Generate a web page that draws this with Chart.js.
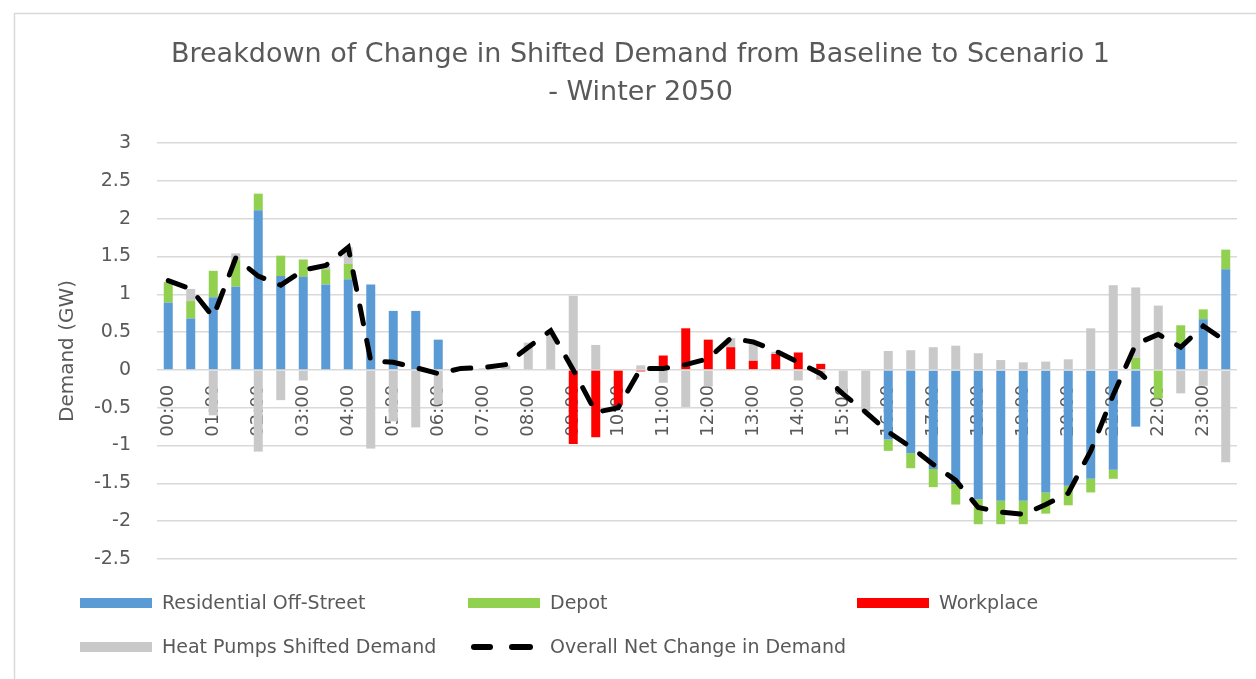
<!DOCTYPE html>
<html><head><meta charset="utf-8">
<script src="https://cdn.jsdelivr.net/npm/chart.js@4.4.1/dist/chart.umd.min.js"></script>
<style>html,body{margin:0;padding:0;background:#fff;overflow:hidden}#wrap{position:relative;width:1256px;height:679px}</style>
</head><body><div id="wrap"><canvas id="c" width="1256" height="679"></canvas></div>
<script>
const categories = ['00:00','00:30','01:00','01:30','02:00','02:30','03:00','03:30','04:00','04:30','05:00','05:30',
  '06:00','06:30','07:00','07:30','08:00','08:30','09:00','09:30','10:00','10:30','11:00','11:30',
  '12:00','12:30','13:00','13:30','14:00','14:30','15:00','15:30','16:00','16:30','17:00','17:30',
  '18:00','18:30','19:00','19:30','20:00','20:30','21:00','21:30','22:00','22:30','23:00','23:30'];
const residential = [0.89,0.68,0.96,1.10,2.11,1.24,1.23,1.13,1.20,1.13,0.78,0.78,
  0.40,0,0,0,0,0,0,0,0,0,0,0,
  0,0,0,0,0,0,0,0,-0.92,-1.10,-1.31,-1.51,
  -1.71,-1.73,-1.73,-1.62,-1.53,-1.44,-1.32,-0.75,0,0.34,0.67,1.33];
const depot = [0.27,0.23,0.35,0.35,0.22,0.27,0.23,0.20,0.20,0,0,0,
  0,0,0,0,0,0,0,0,0,0,0,0,
  0,0,0,0,0,0,0,0,-0.15,-0.20,-0.24,-0.27,
  -0.33,-0.31,-0.31,-0.28,-0.26,-0.18,-0.12,0.16,-0.38,0.25,0.13,0.26];
const workplace = [0,0,0,0,0,0,0,0,0,0,0,0,
  0,0,0,0,0,0,-0.98,-0.89,-0.47,-0.02,0.19,0.55,
  0.40,0.30,0.12,0.21,0.23,0.08,0,0,0,0,0,0,
  0,0,0,0,0,0,0,0,0,0,0,0];
const heatPumps = [0,0.16,-0.60,0.09,-1.08,-0.40,-0.14,0.04,0.22,-1.04,-0.68,-0.76,
  -0.45,0.02,0.02,0.06,0.36,0.48,0.98,0.33,0,0.06,-0.17,-0.49,
  -0.22,0.12,0.22,0.03,-0.14,-0.13,-0.33,-0.54,0.25,0.26,0.30,0.32,
  0.22,0.13,0.10,0.11,0.14,0.55,1.12,0.93,0.85,-0.31,-0.21,-1.22];
const netChange = [1.18,1.07,0.70,1.48,1.24,1.12,1.32,1.38,1.62,0.12,0.10,0.03,
  -0.05,0.02,0.03,0.07,0.30,0.52,0.00,-0.56,-0.50,0.02,0.02,0.07,
  0.15,0.42,0.37,0.25,0.10,-0.05,-0.32,-0.56,-0.82,-1.02,-1.25,-1.46,
  -1.82,-1.88,-1.91,-1.78,-1.63,-1.07,-0.33,0.34,0.47,0.30,0.58,0.38];
const titleLines = ['Breakdown of Change in Shifted Demand from Baseline to Scenario 1','- Winter 2050'];
const yAxisTitle = 'Demand (GW)';

const FONT = 'DejaVu Sans';
const GREY = '#595959';
const COLORS = {res:'#5B9BD5', depot:'#92D050', work:'#FF0000', heat:'#C9C9C9', net:'#000000'};

const frame = {
  id:'frame',
  beforeDraw(chart){
    const c = chart.ctx;
    c.save();
    c.fillStyle='#fff'; c.fillRect(0,0,chart.width,chart.height);
    c.strokeStyle='#d9d9d9'; c.lineWidth=1.5;
    c.strokeRect(14.5,13.5,1300,700);
    c.restore();
  }
};

const legendItems = [
  {text:'Residential Off-Street', color:COLORS.res, type:'box', col:0, row:0},
  {text:'Depot', color:COLORS.depot, type:'box', col:1, row:0},
  {text:'Workplace', color:COLORS.work, type:'box', col:2, row:0},
  {text:'Heat Pumps Shifted Demand', color:COLORS.heat, type:'box', col:0, row:1},
  {text:'Overall Net Change in Demand', color:COLORS.net, type:'line', col:1, row:1}
];
const legendPlugin = {
  id:'gridLegend',
  afterDraw(chart){
    const c = chart.ctx;
    const colX = [80, 468, 857];
    const rowY = [603, 647];
    c.save();
    c.font = '19px "' + FONT + '"';
    c.textBaseline = 'middle';
    c.fillStyle = GREY;
    legendItems.forEach(it=>{
      const x = colX[it.col], y = rowY[it.row];
      if (it.type==='box'){
        c.fillStyle = it.color; c.fillRect(x, y-5, 72, 10);
      } else {
        c.strokeStyle = it.color; c.lineWidth = 6; c.lineCap='round';
        c.beginPath(); c.moveTo(x+6,y); c.lineTo(x+22,y); c.stroke();
        c.beginPath(); c.moveTo(x+44,y); c.lineTo(x+62,y); c.stroke();
      }
      c.fillStyle = GREY;
      c.fillText(it.text, x+82, y+1);
    });
    c.restore();
  }
};

new Chart(document.getElementById('c'), {
  type:'bar',
  data:{
    labels:categories,
    datasets:[
      {type:'line', label:'Overall Net Change in Demand', data:netChange, borderColor:COLORS.net, borderWidth:5,
       borderDash:[18,17], borderCapStyle:'round', pointRadius:0, tension:0, fill:false, order:0, stack:'net'},
      {label:'Residential Off-Street', data:residential, backgroundColor:COLORS.res, stack:'d', order:1},
      {label:'Depot', data:depot, backgroundColor:COLORS.depot, stack:'d', order:1},
      {label:'Workplace', data:workplace, backgroundColor:COLORS.work, stack:'d', order:1},
      {label:'Heat Pumps Shifted Demand', data:heatPumps, backgroundColor:COLORS.heat, stack:'d', order:1}
    ]
  },
  options:{
    responsive:false, animation:false, devicePixelRatio:1,
    layout:{padding:{left:44, right:19, top:0, bottom:120}},
    datasets:{bar:{categoryPercentage:1, barPercentage:0.4}},
    plugins:{
      legend:{display:false}, tooltip:{enabled:false},
      title:{display:true, text:titleLines, color:GREY,
        font:{family:FONT, size:27, weight:'normal', lineHeight:1.407}, padding:{top:36, bottom:31}}
    },
    scales:{
      x:{
        position:{y:0}, stacked:true,
        grid:{display:false}, border:{display:false},
        ticks:{autoSkip:false, minRotation:90, maxRotation:90, padding:7, color:GREY,
          font:{family:FONT, size:18}, callback:(v,i)=> i%2===0 ? categories[i] : ''},
        afterFit:s=>{s.height=0;}
      },
      y:{
        stacked:true, min:-2.5, max:3,
        ticks:{stepSize:0.5, color:GREY, padding:26, font:{family:FONT, size:19},
          callback:v=>String(Math.round(v*10)/10)},
        grid:{color:'#d9d9d9', lineWidth:1.5, drawTicks:false}, border:{display:false},
        title:{display:true, text:yAxisTitle, color:GREY, font:{family:FONT, size:20}, padding:{top:12, bottom:0}},
        afterFit:s=>{s.width=113;}
      }
    }
  },
  plugins:[frame, legendPlugin]
});
</script></body></html>
